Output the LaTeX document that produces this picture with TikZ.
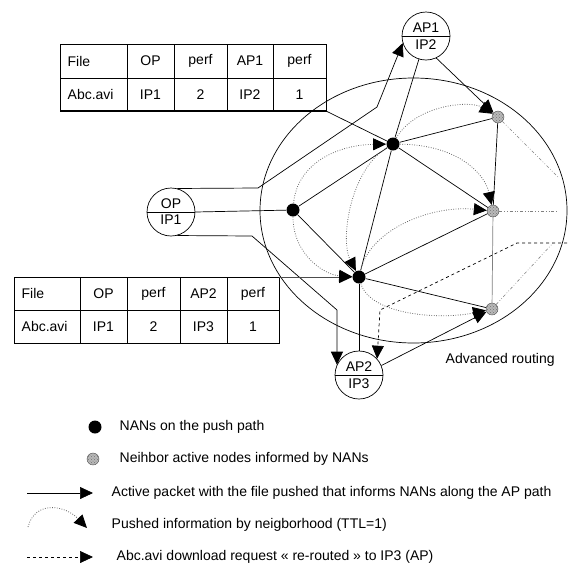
\documentclass[tikz,border=0pt]{standalone}
\usepackage{fontspec}
\setmainfont{Liberation Sans}
\usetikzlibrary{arrows.meta,shapes.multipart,patterns}

\begin{document}
\begin{tikzpicture}[x=1pt,y=-1pt,
    font=\fontsize{14}{16}\selectfont,
    line width=0.7pt,
    tip/.style={-{Triangle[length=13pt,width=12pt,color=black]}},
    nan/.style={circle,fill=black,inner sep=0pt,minimum size=13pt},
    nbr/.style={circle,draw=black!70,line width=0.4pt,fill=gray!55,inner sep=0pt,minimum size=12pt,
        postaction={pattern=crosshatch dots,pattern color=black!55}},
    apnode/.style={circle split,draw,fill=white,minimum size=48pt,inner sep=3pt},
    push/.style={gray!80!black,dash pattern=on 0.8pt off 1.6pt,line width=0.8pt,tip},
    outside/.style={gray,dash dot dot,line width=0.6pt},
    reroute/.style={dashed,tip}]
    \useasboundingbox (0,0) rectangle (568,566);
    % advanced routing area
    \draw (413.5,210.5) ellipse (153.5pt and 132.5pt);
    \node[anchor=west] (adv) at (442,360) {Advanced routing};

    % table at AP1
    \draw (60,44) rectangle (326,111);
    \draw (60,78) -- (326,78);
    \foreach \cx in {127,174,227,273} \draw (\cx,44) -- (\cx,111);
    \draw[line width=1.4pt] (60,111) -- (326,111);
    \coordinate (t1corner) at (326,111);
    \node[anchor=west] (t1file) at (64,61) {File};
    \node (t1op) at (150.5,61) {OP};
    \node (t1perf) at (200.5,61) {perf};
    \node (t1ap) at (250,61) {AP1};
    \node (t1perfb) at (299.5,61) {perf};
    \node[anchor=west] (t1name) at (64,94.5) {Abc.avi};
    \node (t1ip) at (150.5,94.5) {IP1};
    \node (t1val) at (200.5,94.5) {2};
    \node (t1ipb) at (250,94.5) {IP2};
    \node (t1valb) at (299.5,94.5) {1};

    % table at AP2
    \draw (14,277) rectangle (279,343);
    \draw (14,310) -- (279,310);
    \foreach \cx in {80,127,180,227} \draw (\cx,277) -- (\cx,343);
    \coordinate (t2corner) at (279,277);
    \node[anchor=west] (t2file) at (18,293.5) {File};
    \node (t2op) at (103.5,293.5) {OP};
    \node (t2perf) at (153.5,293.5) {perf};
    \node (t2ap) at (203.5,293.5) {AP2};
    \node (t2perfb) at (253,293.5) {perf};
    \node[anchor=west] (t2name) at (18,326.5) {Abc.avi};
    \node (t2ip) at (103.5,326.5) {IP1};
    \node (t2val) at (153.5,326.5) {2};
    \node (t2ipb) at (203.5,326.5) {IP3};
    \node (t2valb) at (253,326.5) {1};

    % nodes
    \node[apnode] (ap1) at (426,36) {AP1\nodepart{lower}IP2};
    \node[apnode] (op) at (171,212) {OP\nodepart{lower}IP1};
    \node[apnode] (ap2) at (359,375) {AP2\nodepart{lower}IP3};
    \node[nan] (nan1) at (293,210) {};
    \node[nan] (nan2) at (393,144) {};
    \node[nan] (nan3) at (359,277) {};
    \node[nbr] (nb1) at (498,117) {};
    \node[nbr] (nb2) at (493,211) {};
    \node[nbr] (nb3) at (492,309) {};

    % active packet paths
    \coordinate (opup) at (258,188);
    \coordinate (opturn) at (377,107);
    \draw[tip] (op.75) -- (opup) -- (opturn) -- (ap1.197);
    \coordinate (opdown) at (252,236);
    \coordinate (opdrop) at (337,310);
    \draw[tip] (op.-75) -- (opdown) -- (opdrop) -- (ap2.155);
    \draw (op.east) -- (nan1);
    \draw (t1corner) -- (nan2);
    \draw (nan1) -- (nan2);
    \draw (nan1) -- (nan3);
    \draw (nan2) -- (ap1);
    \draw (nan2) -- (nan3);
    \draw[tip] (ap1.-65) -- (nb1);
    \draw (nan2) -- (nb1);
    \draw (nan2) -- (nb2);
    \draw (nb1) -- (nb2);
    \draw[gray] (nb2) -- (nb3);
    \draw (nan3) -- (nb2);
    \draw (nan3) -- (nb3);
    \draw (nan3) -- (ap2);
    \draw[tip] (ap2.23) -- (nb3);
    \draw[gray!60!black,line width=1pt,tip] (t2corner) -- (nan3);

    % neighbourhood
    \draw[push] (nan1) .. controls (297,165) and (335,145) .. (nan2);
    \draw[push] (nan1) .. controls (293,255) and (325,275) .. (nan3);
    \draw[push] (nan2) .. controls (350,170) and (340,240) .. (nan3);
    \draw[push] (nan2) .. controls (415,105) and (470,100) .. (nb1);
    \draw[push] (nan2) .. controls (460,145) and (485,175) .. (nb2);
    \draw[push] (nan3) .. controls (370,230) and (430,205) .. (nb2);
    \draw[push] (nan3) .. controls (370,315) and (440,320) .. (nb3);

    \coordinate (out1) at (558,177);
    \coordinate (out2) at (558,211);
    \coordinate (out3) at (553,243);
    \draw[outside] (nb1) -- (out1);
    \draw[outside] (nb2) -- (out2);
    \draw[outside] (nb3) -- (out3);

    % re-routed request
    \coordinate (req) at (567,243);
    \coordinate (reqturn) at (517,243);
    \coordinate (reqdrop) at (380,310);
    \draw[reroute] (req) -- (reqturn) -- (reqdrop) -- (ap2.42);

    % legend
    \node[nan] (lnan) at (95,427) {};
    \node[anchor=west] (lnantext) at (116,427) {NANs on the push path};
    \node[nbr] (lnb) at (93,459) {};
    \node[anchor=west] (lnbtext) at (116,459) {Neihbor active nodes informed by NANs};
    \coordinate (la1) at (27,493);
    \coordinate (la2) at (93,493);
    \draw[tip] (la1) -- (la2);
    \node[anchor=west] (latext) at (108,493) {Active packet with the file pushed that informs NANs along the AP path};
    \coordinate (lp1) at (28,527);
    \coordinate (lp2) at (87,528);
    \draw[push] (lp1) .. controls (35,500) and (65,505) .. (lp2);
    \node[anchor=west] (lptext) at (108,525) {Pushed information by neigborhood (TTL=1)};
    \coordinate (ld1) at (27,557);
    \coordinate (ld2) at (93,557);
    \draw[reroute] (ld1) -- (ld2);
    \node[anchor=west] (ldtext) at (113,557) {Abc.avi download request « re-routed » to IP3 (AP)};
\end{tikzpicture}
\end{document}
